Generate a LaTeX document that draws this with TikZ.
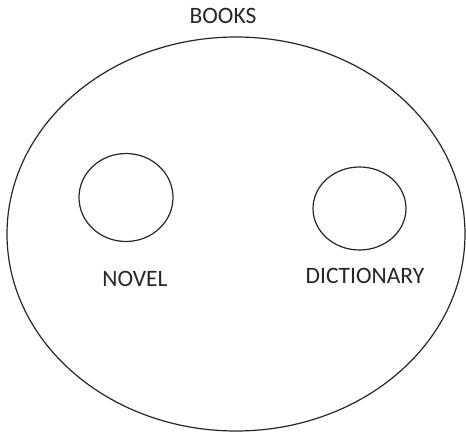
\documentclass[tikz,border=0pt]{standalone}
\usepackage{fontspec}
\setmainfont{Carlito}
\begin{document}
\begin{tikzpicture}[x=1pt,y=-1pt,
  shape line/.style={draw=black!85, line width=1.2pt},
  lbl/.style={font=\fontsize{23.5}{28}\selectfont, text=black!85, inner sep=0pt}]
\useasboundingbox (0,0) rectangle (466,434);
\draw[shape line] (236,234) ellipse [x radius=229, y radius=197];
\draw[shape line] (126,197.5) ellipse [x radius=47, y radius=44];
\draw[shape line] (359.5,208.5) ellipse [x radius=46.5, y radius=41.5];
\node[lbl] (books) at (223,16) {BOOKS};
\node[lbl] (novel) at (135,279) {NOVEL};
\node[lbl] (dict) at (365,276) {DICTIONARY};
\end{tikzpicture}
\end{document}
